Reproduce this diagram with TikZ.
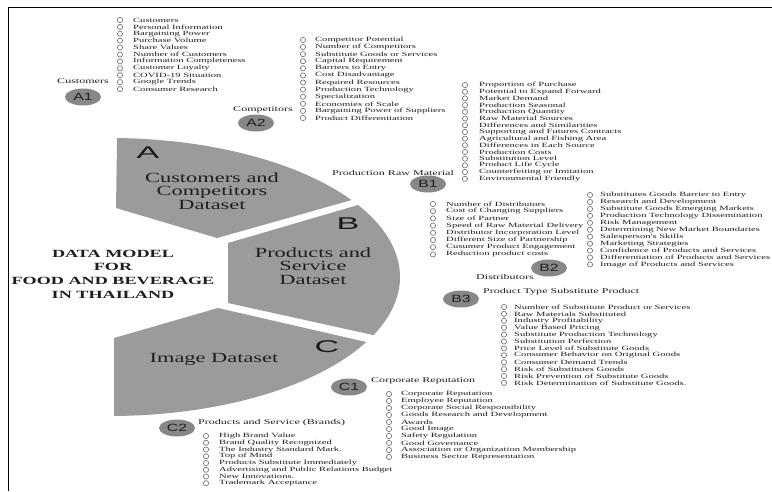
\documentclass[tikz,border=0pt]{standalone}
\usepackage{fontspec}
\setmainfont{Liberation Serif}
\newfontfamily\listfont[FakeStretch=1.65]{Liberation Serif}
\newfontfamily\bigfont[FakeStretch=1.6]{Liberation Serif}
\newfontfamily\letterfont[FakeStretch=2.0]{Liberation Sans}
\newfontfamily\badgefont[FakeStretch=1.5]{Liberation Sans}
\usetikzlibrary{shapes.geometric}
\pgfdeclarelayer{bg}
\pgfsetlayers{bg,main}
\definecolor{secgray}{RGB}{155,155,155}
\definecolor{badgegray}{RGB}{135,135,135}
\definecolor{linegray}{RGB}{105,105,105}
\definecolor{txt}{RGB}{30,30,30}
\tikzset{
  dotc/.style={circle, draw=linegray, fill=white, line width=0.6pt, inner sep=0pt, minimum size=5.2pt},
  itemtxt/.style={anchor=west, inner sep=0pt, font=\listfont\fontsize{6.4}{6.4}\selectfont, text=txt},
  conn/.style={draw=linegray, line width=0.7pt},
  badge/.style={ellipse, fill=badgegray, minimum width=36pt, minimum height=17pt, inner sep=0pt, font=\badgefont\fontsize{10.5}{10.5}\selectfont, text=txt},
  lbl/.style={inner sep=0pt, font=\listfont\fontsize{7.3}{7.3}\selectfont, text=txt},
  sector/.style={fill=secgray, draw=none},
  bigtxt/.style={align=center, inner sep=0pt, font=\bigfont\fontsize{14}{13.3}\selectfont, text=txt},
  bigletter/.style={inner sep=0pt, font=\letterfont\fontsize{17}{17}\selectfont, text=black!90},
  titletxt/.style={align=center, inner sep=0pt, font=\listfont\bfseries\fontsize{11}{13.7}\selectfont, text=txt}
}
\newcommand\mklist[6]{%
  \foreach \t [count=\i] in {#6} {
    \node[dotc] (#1-\i) at (#2,{#4+(\i-1)*#5}) {};
    \node[itemtxt] (#1-t\i) at (#3,{#4+(\i-1)*#5}) {\t};
  }}
\begin{document}
\begin{tikzpicture}[x=1pt,y=-1pt]
\useasboundingbox (0,0) rectangle (772,491);
\fill[white] (0,0) rectangle (772,491);
\draw[line width=1.6pt, black] (8.5,491) -- (8.5,7.5) -- (772,7.5);

% sectors
\fill[sector] plot[domain=88.6:33.6, samples=60] ({110+290*cos(\x)},{277-139*sin(\x)}) -- (217,238) -- (116,208) -- cycle;
\fill[sector] (228,243) -- plot[domain=31.2:-24.7, samples=60] ({110+290*cos(\x)},{277-139*sin(\x)}) -- (228,303) -- cycle;
\fill[sector] (218,308) -- plot[domain=-27.9:-89.2, samples=60] ({110+290*cos(\x)},{277-139*sin(\x)}) -- (114,338) -- cycle;

\node[bigletter] (LA) at (148,153) {A};
\node[bigletter] (LB) at (348,224) {B};
\node[bigletter] (LC) at (327,347) {C};
\node[bigtxt] (TA) at (212,191) {Customers and\\Competitors\\Dataset};
\node[bigtxt] (TB) at (313,266) {Products and\\Service\\Dataset};
\node[bigtxt] (TC) at (214,359) {Image Dataset};
\node[titletxt] (title) at (113,274) {DATA MODEL\\FOR\\FOOD AND BEVERAGE\\IN THAILAND};

% badges
\node[badge] (A1) at (83,97) {A1};
\node[badge] (A2) at (256,123) {A2};
\node[badge] (B1) at (428,184) {B1};
\node[badge] (B2) at (549,268) {B2};
\node[badge] (B3) at (461,299) {B3};
\node[badge] (C1) at (349,387) {C1};
\node[badge] (C2) at (177,428) {C2};

% labels
\node[lbl] (lA1) at (83,81) {Customers};
\node[lbl] (lA2) at (263,110) {Competitors};
\node[lbl] (lB1) at (393,173) {Production Raw Material};
\node[lbl] (lB2) at (505,277) {Distributors};
\node[lbl, anchor=west] (lB3) at (483,292) {Product Type Substitute Product};
\node[lbl, anchor=west] (lC1) at (371,381) {Corporate Reputation};
\node[lbl, anchor=west] (lC2) at (198,423) {Products and Service (Brands)};

% lists
\mklist{a1}{120}{133}{20}{6.9}{Customers,Personal Information,Bargaining Power,Purchase Volume,Share Values,Number of Customers,Information Completeness,Customer Loyalty,COVID-19 Situation,Google Trends,Consumer Research}
\mklist{a2}{303}{315}{40}{7.09}{Competitor  Potential,Number of Competitors,Substitute Goods or Services,Capital Requirement,Barriers to Entry,Cost Disadvantage,Required Resources,Production Technology,Specialization,Economies of Scale,Bargaining Power of Suppliers,Product Differentiation}
\mklist{b1}{465}{479}{85}{6.7}{Proportion of Purchase,Potential to Expand Forward,Market Demand,Production Seasonal,Production Quantity,Raw Material Sources,Differences and Similarities,Supporting  and Futures Contracts,Agricultural  and  Fishing Area,Differences  in Each Source,Production Costs,Substitution Level,Product Life Cycle,Counterfeiting or Imitation,Environmental Friendly}
\mklist{b2l}{433}{446}{204}{7.2}{Number of Distributors,Cost of Changing Suppliers,Size of Partner,Speed of Raw Material Delivery,Distributor Incorporation Level,Different Size of Partnership,Cusumer Product Engagement,Reduction product costs}
\mklist{b2r}{590}{600}{195}{6.95}{Substitutes Goods Barrier to Entry,Research and Development,Substitute Goods Emerging Markets,Production Technology Dissemination,Risk Management,Determining New Market Boundaries,Salesperson's Skills,Marketing Strategies,Confidence of Products and Services,Differentiation of Products and Services,Image of Products and Services}
\mklist{b3}{504}{514}{307}{6.9}{Number of Substitute Product or Services,Raw Materials Substituted,Industry Profitability,Value Based Pricing,Substitute Production Technology,Substitution Perfection,Price Level of Substitute Goods,Consumer Behavior on Original Goods,Consumer Demand Trends,Risk of Substitutes Goods,Risk Prevention of Substitute Goods,Risk Determination of Substitute Goods.}
\mklist{c1}{389}{401}{394}{7.0}{Corporate Reputation,Employee Reputation,Corporate Social Responsibility,Goods Research and Development,Awards,Good Image,Safety Regulation,Good Governance,Association or Organization Membership,Business Sector Representation}
\mklist{c2}{206}{219}{436}{6.75}{High Brand Value,Brand Quality Recognized,The Industry Standard Mark.,Top of Mind,Products Substitute Immediately,Advertising and Public Relations Budget,New Innovations.,Trademark Acceptance}

\begin{pgfonlayer}{bg}
\draw[conn] (A1.east) -| (a1-1.center);
\draw[conn] (A2.east) -| (a2-1.center);
\draw[conn] (B1.east) -| (b1-1.center);
\draw[conn] (b2l-1.center) |- (B2.west);
\draw[conn] (B2.east) -| (b2r-1.center);
\draw[conn] (B3.east) -| (b3-12.center);
\draw[conn] (C1.east) -| (c1-10.center);
\draw[conn] (C2.east) -| (c2-8.center);
\end{pgfonlayer}
\end{tikzpicture}
\end{document}
